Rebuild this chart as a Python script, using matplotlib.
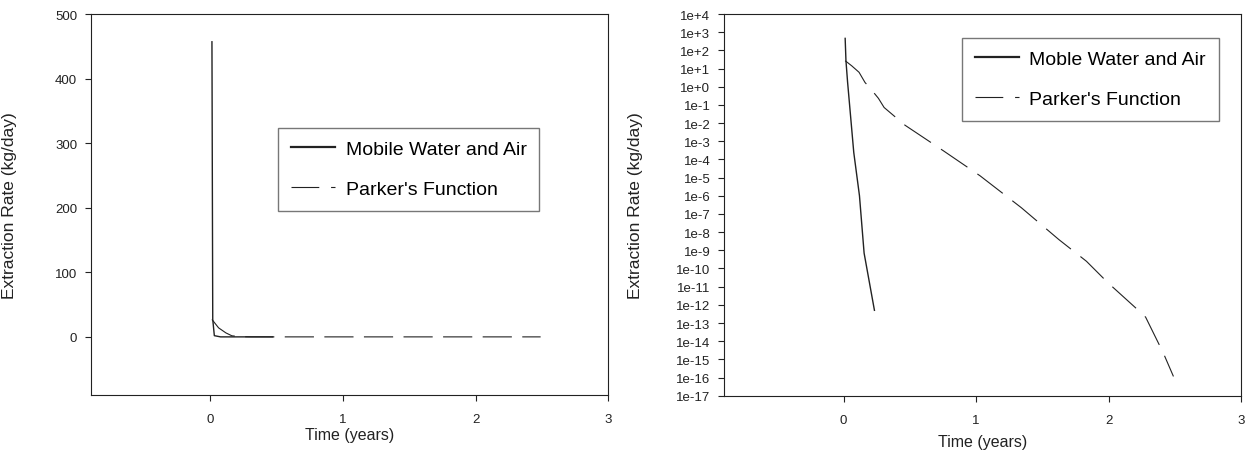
import matplotlib
matplotlib.use("Agg")
import matplotlib.pyplot as plt
from matplotlib.ticker import FixedLocator, FixedFormatter, NullLocator

# Extraction rate histories (time in years, rate in kg/day)
time_mobile = [0.012, 0.018, 0.030, 0.077, 0.120, 0.155, 0.233, 0.470]
rate_mobile = [457.0, 27.0, 1.9, 2.4e-4, 1.0e-6, 7.0e-10, 5.0e-13, 0.0]

time_parker = [0.012, 0.062, 0.117, 0.162, 0.195, 0.263, 0.306, 0.464, 0.753,
               1.030, 1.342, 1.625, 1.833, 1.997, 2.220, 2.280, 2.414, 2.490]
rate_parker = [27.0, 14.0, 6.2, 1.7, 0.93, 0.23, 0.072, 7.6e-3, 3.0e-4,
               1.26e-5, 2.2e-7, 3.9e-9, 2.5e-10, 1.6e-11, 5.4e-13, 2.1e-13,
               2.2e-15, 1.15e-16]

x_ticks = [0, 1, 2, 3]
lin_ticks = [0, 100, 200, 300, 400, 500]
log_exponents = list(range(4, -18, -1))
log_ticks = [10.0 ** e for e in log_exponents]
log_labels = [f"1e{e:+d}" for e in log_exponents]

label_left = "Mobile Water and Air"
label_right = "Moble Water and Air"
label_parker = "Parker's Function"

plt.rcParams["font.family"] = ["Liberation Sans", "DejaVu Sans"]
plt.rcParams["lines.scale_dashes"] = False

INK = "#222222"

fig = plt.figure(figsize=(12.48, 4.52), dpi=100)
ax1 = fig.add_axes([0.0729, 0.1239, 0.4145, 0.8429])
ax2 = fig.add_axes([0.5804, 0.1223, 0.4140, 0.8445])


def style_axes(ax):
    for sp in ax.spines.values():
        sp.set_color(INK)
        sp.set_linewidth(0.8)
    ax.tick_params(axis="both", which="both", direction="out", length=4,
                   width=0.8, color=INK, labelcolor=INK, labelsize=9.5,
                   top=False, right=False)
    ax.tick_params(axis="x", pad=9)
    ax.tick_params(axis="y", pad=6)
    ax.set_xlim(-0.9, 3.0)
    ax.xaxis.set_major_locator(FixedLocator(x_ticks))
    ax.set_xlabel("Time (years)", fontsize=11.5, color=INK)
    ax.set_ylabel("Extraction Rate (kg/day)", fontsize=12.5, color=INK)


def add_legend(ax, anchor):
    leg = ax.legend(loc="upper left", bbox_to_anchor=anchor,
                    fontsize=14, frameon=True, fancybox=False, framealpha=1,
                    handlelength=2.25, handletextpad=0.55, borderpad=0.66,
                    labelspacing=1.15, borderaxespad=0)
    leg.get_frame().set_edgecolor("#777777")
    leg.get_frame().set_linewidth(1.0)
    solid, dashed = leg.get_lines()
    solid.set_linewidth(1.6)
    dashed.set_dashes((20, 8.5))
    return leg


# Linear panel
ax1.plot(time_mobile, rate_mobile, color=INK, lw=1.0, label=label_left)
ax1.plot(time_parker, rate_parker, color=INK, lw=0.8, dashes=(21, 7.5),
         label=label_parker)
style_axes(ax1)
ax1.set_ylim(-90, 500)
ax1.yaxis.set_major_locator(FixedLocator(lin_ticks))
ax1.xaxis.set_label_coords(0.5, -0.085)
ax1.yaxis.set_label_coords(-0.143, 0.5)
add_legend(ax1, (0.362, 0.702))

# Logarithmic panel
ax2.plot(time_mobile, rate_mobile, color=INK, lw=1.0, label=label_right)
ax2.plot(time_parker, rate_parker, color=INK, lw=0.8, dashes=(23, 8.7),
         label=label_parker)
ax2.set_yscale("log", nonpositive="mask")
style_axes(ax2)
ax2.set_ylim(1e-17, 1e4)
ax2.yaxis.set_major_locator(FixedLocator(log_ticks))
ax2.yaxis.set_major_formatter(FixedFormatter(log_labels))
ax2.yaxis.set_minor_locator(NullLocator())
ax2.xaxis.set_label_coords(0.5, -0.1)
ax2.yaxis.set_label_coords(-0.157, 0.5)
add_legend(ax2, (0.460, 0.938))

fig.savefig("out.png", dpi=100, facecolor="white")
